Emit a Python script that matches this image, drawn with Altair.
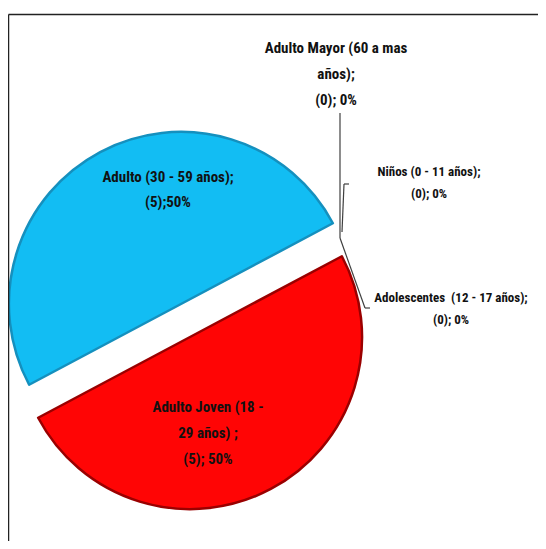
import math
import altair as alt
import pandas as pd

# ---- data ----
CATEGORIES = [
    "Niños (0 - 11 años)",
    "Adolescentes  (12 - 17 años)",
    "Adulto Joven (18 - 29 años)",
    "Adulto (30 - 59 años)",
    "Adulto Mayor (60 a mas años)",
]
COUNTS = [0, 0, 5, 5, 0]
ORDER = [0, 1, 2, 3, 4]

LABEL_LINES = {
    "Adulto (30 - 59 años)": ["Adulto (30 - 59 años);", "(5);50%"],
    "Adulto Joven (18 - 29 años)": ["Adulto Joven (18 -", "29 años) ;", "(5); 50%"],
    "Adulto Mayor (60 a mas años)": ["Adulto Mayor (60 a mas", "años);", "(0); 0%"],
    "Niños (0 - 11 años)": ["Niños (0 - 11 años);", "(0); 0%"],
    "Adolescentes  (12 - 17 años)": ["Adolescentes\u00a0 (12 - 17 años);", "(0); 0%"],
}

df = pd.DataFrame({"cat": CATEGORIES, "count": COUNTS, "ord": ORDER})

FONT = "Liberation Sans Narrow, Arial Narrow, Roboto Condensed, Liberation Sans"
START = math.radians(62)
R = 172

base = (
    alt.Chart(df)
    .transform_joinaggregate(total="sum(count)")
    .transform_window(cum="sum(count)", sort=[alt.SortField("ord")])
    .transform_calculate(
        start="(datum.cum - datum.count) / datum.total",
        end="datum.cum / datum.total",
    )
)

theta = alt.Theta("start:Q", scale=alt.Scale(domain=[0, 1], range=[START, START + 2 * math.pi]))


def slice_layer(cat, fill, stroke, cx, cy):
    return (
        base.transform_filter(alt.datum.cat == cat)
        .mark_arc(outerRadius=R, fill=fill, stroke=stroke, strokeWidth=2.5, strokeJoin="round")
        .encode(theta=theta, theta2="end:Q", x=alt.value(cx), y=alt.value(cy))
    )


blue = slice_layer("Adulto (30 - 59 años)", "#12BDF3", "#1590BE", 173, 296)
red = slice_layer("Adulto Joven (18 - 29 años)", "#FF0505", "#9A0000", 182, 329)


def label_layer(cat, x, y, size, lh):
    return (
        alt.Chart(df)
        .transform_filter(alt.datum.cat == cat)
        .mark_text(
            text=LABEL_LINES[cat],
            font=FONT,
            fontSize=size,
            fontWeight="bold",
            color="#111111",
            align="center",
            baseline="middle",
            lineHeight=lh,
        )
        .encode(x=alt.value(x), y=alt.value(y))
    )


labels = [
    label_layer("Adulto (30 - 59 años)", 160, 169, 15, 25),
    label_layer("Adulto Joven (18 - 29 años)", 200, 399, 15, 26),
    label_layer("Adulto Mayor (60 a mas años)", 328, 40, 15, 26),
    label_layer("Niños (0 - 11 años)", 421, 164, 13, 22),
    label_layer("Adolescentes  (12 - 17 años)", 443, 290, 13, 22),
]


def seg(cat, x1, y1, x2, y2, color="#404040", w=1.2):
    return (
        alt.Chart(df)
        .transform_filter(alt.datum.cat == cat)
        .mark_rule(color=color, strokeWidth=w)
        .encode(x=alt.value(x1), y=alt.value(y1), x2=alt.value(x2), y2=alt.value(y2))
    )


leaders = [
    seg("Adulto Mayor (60 a mas años)", 332, 105, 332, 230),
    seg("Niños (0 - 11 años)", 336, 176, 334, 224),
    seg("Niños (0 - 11 años)", 336, 176, 341, 176),
    seg("Adolescentes  (12 - 17 años)", 332, 230, 357, 300),
    seg("Adolescentes  (12 - 17 años)", 357, 300, 362, 300),
]

frame = [
    seg("Niños (0 - 11 años)", 0.5, 6.5, 0.5, 540, color="#222222", w=1.5),
    seg("Niños (0 - 11 años)", 0.5, 6.5, 540, 6.5, color="#222222", w=1.5),
]

chart = (
    alt.layer(blue, red, *leaders, *labels, *frame)
    .properties(width=530, height=533, autosize=alt.AutoSizeParams(type="none"), padding=0)
    .configure_view(stroke=None)
)

chart.save("out.html", embed_options={"renderer": "svg", "actions": False})
